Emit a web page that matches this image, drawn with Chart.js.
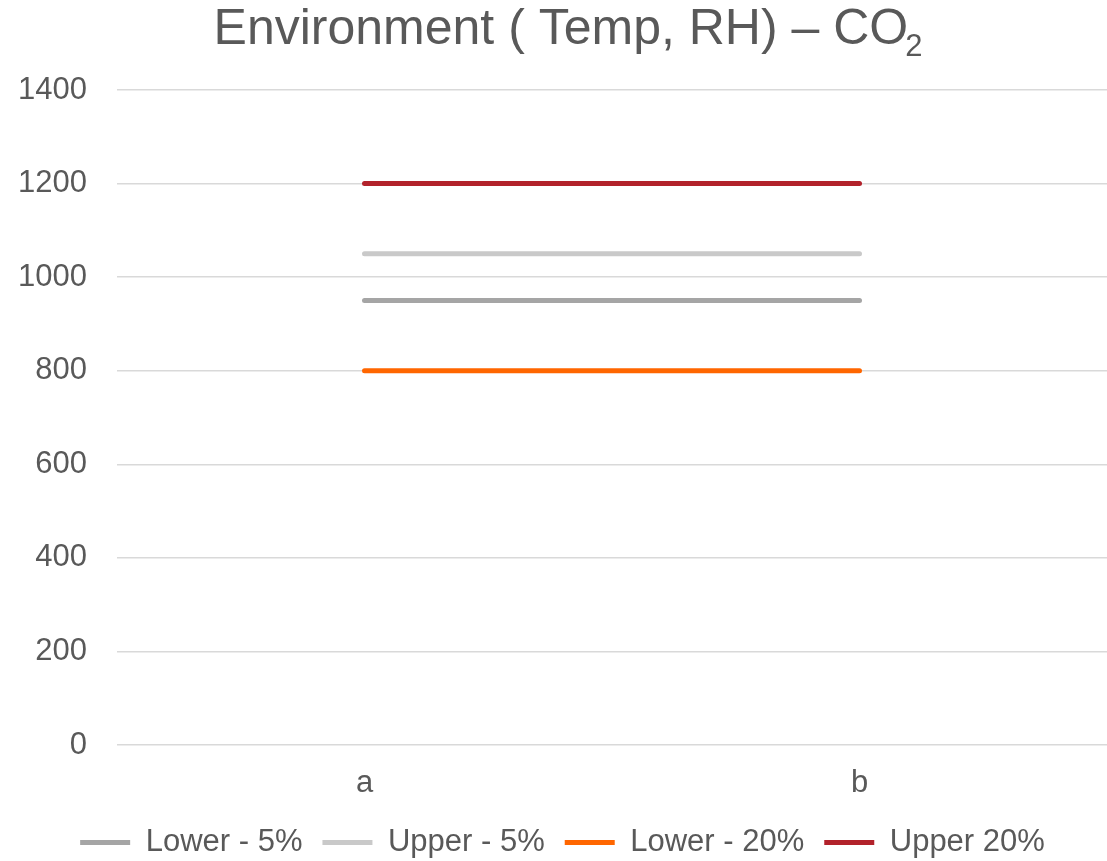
<!DOCTYPE html>
<html>
<head>
<meta charset="utf-8">
<script src="https://cdn.jsdelivr.net/npm/chart.js@4/dist/chart.umd.min.js"></script>
<style>
  html, body { margin: 0; padding: 0; background: #ffffff; }
  #wrap { width: 1107px; height: 861px; }
</style>
</head>
<body>
<div id="wrap"><canvas id="c" width="1107" height="861"></canvas></div>
<script>
// CO2 thresholds per reading point
const categories = ['a', 'b'];
const lower5  = [950, 950];
const upper5  = [1050, 1050];
const lower20 = [800, 800];
const upper20 = [1200, 1200];
const seriesNames = ['Lower - 5%', 'Upper - 5%', 'Lower - 20%', 'Upper 20%'];
const yTicks = [0, 200, 400, 600, 800, 1000, 1200, 1400];
const titleMain = 'Environment ( Temp, RH) – CO';
const titleSub = '2';

const FONT = "'Liberation Sans', Arial, sans-serif";
const TEXT = '#595959';

// Title with a real subscript for the "2" of CO2
const subscriptTitle = {
  id: 'subscriptTitle',
  afterDraw(chart) {
    const ctx = chart.ctx;
    ctx.save();
    ctx.fillStyle = TEXT;
    ctx.textBaseline = 'alphabetic';
    ctx.textAlign = 'left';
    ctx.font = '50px ' + FONT;
    const wMain = ctx.measureText(titleMain).width;
    ctx.font = '31px ' + FONT;
    const wSub = ctx.measureText(titleSub).width;
    const x0 = 568 - (wMain + wSub - 3) / 2;
    ctx.font = '50px ' + FONT;
    ctx.fillText(titleMain, x0, 44);
    ctx.font = '31px ' + FONT;
    ctx.fillText(titleSub, x0 + wMain - 3, 56);
    ctx.restore();
  }
};

function series(label, data, color) {
  return {
    label, data,
    borderColor: color,
    backgroundColor: color,
    borderWidth: 5,
    borderCapStyle: 'round',
    pointRadius: 0,
    pointHoverRadius: 0,
    pointStyle: 'line',
    fill: false,
    tension: 0
  };
}

new Chart(document.getElementById('c'), {
  type: 'line',
  data: {
    labels: categories,
    datasets: [
      series(seriesNames[0], lower5,  '#a5a5a5'),
      series(seriesNames[1], upper5,  '#c9c9c9'),
      series(seriesNames[2], lower20, '#ff6600'),
      series(seriesNames[3], upper20, '#b2222b')
    ]
  },
  plugins: [subscriptTitle],
  options: {
    responsive: false,
    animation: false,
    layout: { padding: { left: 18, right: 0, top: 90, bottom: -7 } },
    plugins: {
      title: { display: false },
      legend: {
        position: 'bottom',
        labels: {
          usePointStyle: true,
          pointStyleWidth: 50,
          color: TEXT,
          font: { family: FONT, size: 31 },
          padding: 20
        }
      },
      tooltip: { enabled: false }
    },
    scales: {
      x: {
        offset: true,
        grid: { display: false, drawTicks: false },
        border: { display: false },
        ticks: { color: TEXT, font: { family: FONT, size: 31 }, padding: 20 },
        afterFit(scale) { scale.height = 62; }
      },
      y: {
        min: yTicks[0],
        max: yTicks[yTicks.length - 1],
        afterBuildTicks(scale) { scale.ticks = yTicks.map(v => ({ value: v })); },
        afterFit(scale) { scale.width = 99; },
        grid: { color: '#d9d9d9', lineWidth: 1.5, drawTicks: false },
        border: { display: false },
        ticks: {
          color: TEXT,
          font: { family: FONT, size: 31 },
          padding: 30,
          callback: (v) => String(v)
        }
      }
    }
  }
});
</script>
</body>
</html>
